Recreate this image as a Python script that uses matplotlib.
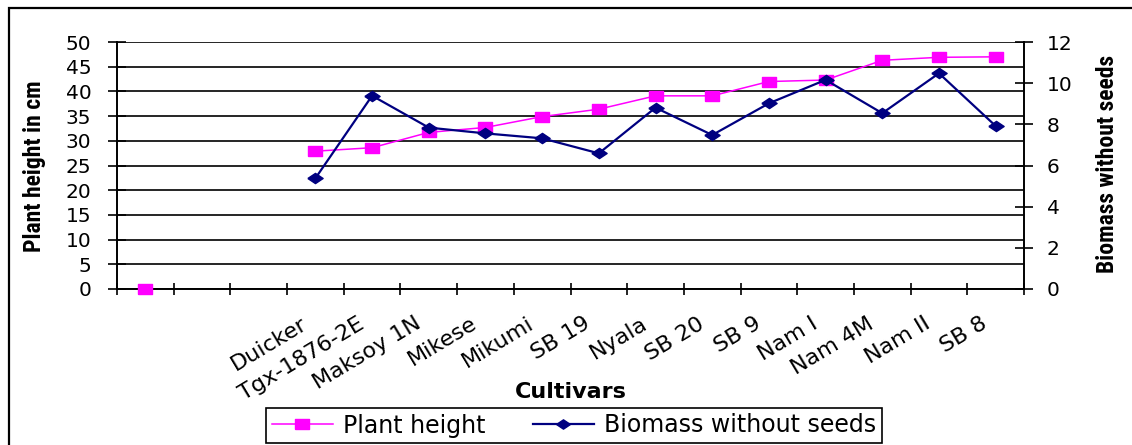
import numpy as np
import matplotlib
matplotlib.use("Agg")
import matplotlib.pyplot as plt
from matplotlib.patches import Rectangle
from matplotlib.lines import Line2D
from matplotlib import font_manager

nan = np.nan
categories = ['', '', '', 'Duicker', 'Tgx-1876-2E', 'Maksoy 1N', 'Mikese', 'Mikumi',
              'SB 19', 'Nyala', 'SB 20', 'SB 9', 'Nam I', 'Nam 4M', 'Nam II', 'SB 8']
plant_height = [0, nan, nan, 27.9, 28.6, 31.7, 32.7, 34.9, 36.4, 39.1, 39.1,
                42.0, 42.3, 46.3, 46.9, 47.0]
biomass = [nan, nan, nan, 5.38, 9.39, 7.84, 7.56, 7.32, 6.59, 8.81, 7.48,
           9.02, 10.16, 8.54, 10.48, 7.92]
left_ticks = list(range(0, 51, 5))
right_ticks = list(range(0, 13, 2))

installed = {f.name for f in font_manager.fontManager.ttflist}
if 'Roboto Condensed' in installed:
    narrow_family, narrow_size_l, narrow_size_r = 'Roboto Condensed', 17, 17
elif 'Liberation Sans Narrow' in installed:
    narrow_family, narrow_size_l, narrow_size_r = 'Liberation Sans Narrow', 17, 16.5
else:
    narrow_family, narrow_size_l, narrow_size_r = 'Liberation Sans', 14, 13.5

plt.rcParams['font.family'] = ['DejaVu Sans']
W, H = 1132, 445
fig = plt.figure(figsize=(W / 100, H / 100), dpi=100)
ax = fig.add_axes([117 / W, 1 - 289 / H, (1024 - 117) / W, (289 - 42) / H])

x = np.arange(len(categories))
ax.set_xlim(-0.5, len(categories) - 0.5)
ax.set_ylim(0, 50)
ax.set_yticks(left_ticks)
ax.grid(axis='y', color='black', lw=1.2)
ax.set_axisbelow(True)
ax.set_xticks(np.arange(-0.5, len(categories), 1.0))
ax.set_xticklabels([])
ax.tick_params(axis='x', direction='inout', length=8.6, width=1.2)
ax.tick_params(axis='y', direction='inout', length=13, width=1.2, labelsize=14.5, pad=12)
for s in ['top', 'right']:
    ax.spines[s].set_visible(False)
for s in ['left', 'bottom']:
    ax.spines[s].set_linewidth(1.4)

sq = [(-1, -0.69), (1, -0.69), (1, 0.69), (-1, 0.69), (-1, -0.69)]
dia = [(-1, 0), (0, 0.67), (1, 0), (0, -0.67), (-1, 0)]
pink = '#FF00FF'
navy = '#000080'
ax.plot(x, plant_height, color=pink, lw=1.1, marker=sq, markersize=9.5,
        markerfacecolor=pink, markeredgecolor=pink, clip_on=False, zorder=3)

ax2 = ax.twinx()
ax2.set_ylim(0, 12)
ax2.set_yticks(right_ticks)
ax2.tick_params(axis='y', direction='inout', length=13, width=1.2, labelsize=14.5, pad=10)
for s in ['top', 'left', 'bottom']:
    ax2.spines[s].set_visible(False)
ax2.spines['right'].set_linewidth(1.4)
ax2.plot(x, biomass, color=navy, lw=1.6, marker=dia, markersize=11,
         markerfacecolor=navy, markeredgecolor=navy, clip_on=False, zorder=4)

for i, lab in enumerate(categories):
    if lab:
        ax.annotate(lab, xy=(i, 0), xycoords=('data', 'axes fraction'),
                    xytext=(-10, -33), textcoords='offset pixels',
                    rotation=31, ha='right', va='center', rotation_mode='anchor',
                    fontsize=16)

fig.text(571 / W, 1 - 392 / H, 'Cultivars', ha='center', va='center',
         fontsize=16, fontweight='bold')
fig.text(35 / W, 1 - 166 / H, 'Plant height in cm', rotation=90, ha='center',
         va='center', fontsize=narrow_size_l, fontweight='bold', family=narrow_family)
fig.text(1108 / W, 1 - 163.5 / H, 'Biomass without seeds', rotation=90, ha='center',
         va='center', fontsize=narrow_size_r, fontweight='bold', family=narrow_family)

handles = [Line2D([], [], color=pink, lw=1.1, marker=sq, markersize=9.5,
                  markerfacecolor=pink, markeredgecolor=pink),
           Line2D([], [], color=navy, lw=1.6, marker=dia, markersize=10,
                  markerfacecolor=navy, markeredgecolor=navy)]
leg = fig.legend(handles, ['Plant height', 'Biomass without seeds'], loc='center',
                 bbox_to_anchor=(574 / W, 1 - 425.5 / H), ncol=2, fontsize=17,
                 frameon=True, fancybox=False, shadow=False, framealpha=1,
                 edgecolor='black', handlelength=2.6, handletextpad=0.42,
                 columnspacing=2.0, borderpad=0.25, borderaxespad=0)
leg.get_frame().set_linewidth(1.2)

fig.patches.append(Rectangle((9 / W, -0.2), 1.2, 1 - 8 / H + 0.2,
                             transform=fig.transFigure, fill=False,
                             edgecolor='black', lw=1.6))

fig.savefig('out.png', dpi=100)
